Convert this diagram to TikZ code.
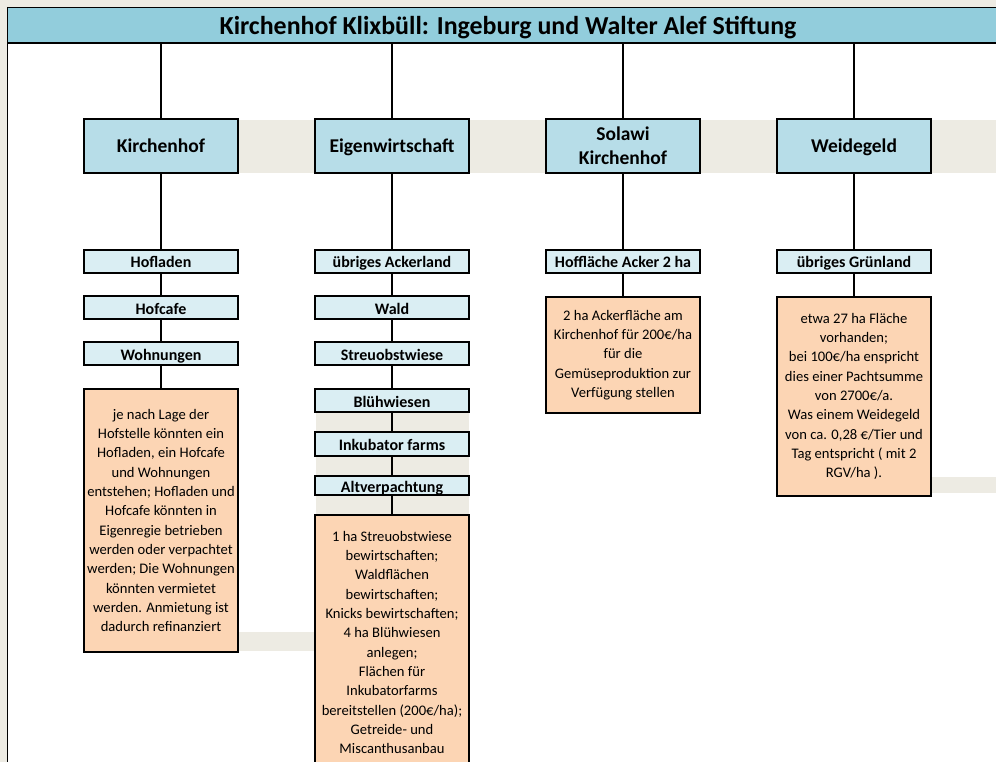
\documentclass[tikz,border=0pt]{standalone}
\usepackage{fontspec}
\setmainfont{Carlito}
\usepackage{tikz}
\usetikzlibrary{positioning,calc}
\definecolor{titleblue}{HTML}{92CDDC}
\definecolor{headblue}{HTML}{B7DDE8}
\definecolor{subblue}{HTML}{DAEEF3}
\definecolor{noteorange}{HTML}{FCD5B4}
\definecolor{bandgray}{HTML}{EDEBE3}
\newcommand{\ttlfont}{\bfseries\fontsize{25.9}{29}\selectfont}
\newcommand{\hdfont}{\bfseries\fontsize{19.5}{23}\selectfont}
\newcommand{\sbfont}{\bfseries\fontsize{16}{18}\selectfont}
\newcommand{\ntfont}{\fontsize{14.6}{19.35}\selectfont}

\begin{document}
\begin{tikzpicture}
  [x=1pt,y=-1pt,
   titleN/.style={draw,line width=1pt,fill=titleblue,minimum width=1001pt,minimum height=35pt,inner sep=0pt,text height=20pt,text depth=1pt,font=\ttlfont},
   headN/.style={draw,line width=2pt,fill=headblue,minimum width=154pt,minimum height=54pt,inner sep=0pt,text height=15pt,text depth=1pt,font=\hdfont},
   subN/.style={draw,line width=2pt,fill=subblue,minimum width=154pt,minimum height=23pt,inner sep=0pt,text height=14pt,text depth=1pt,font=\sbfont},
   noteN/.style={draw,line width=2pt,fill=noteorange,minimum width=154pt,inner sep=0pt,align=center,anchor=north,font=\ntfont},
   band/.style={fill=bandgray},
   conn/.style={line width=1.5pt}]

  \useasboundingbox (0,0) rectangle (996,762);
  \clip (0,0) rectangle (996,762);

  % sheet
  \fill[bandgray] (0,0) rectangle (996,762);
  \fill[white] (7,7) rectangle (996,762);
  \draw[line width=1pt] (7,7) -- (7,762);

  \fill[band] (238,120) rectangle (996,173);
  \fill[band] (316,412) rectangle (469,514);
  \fill[band] (238,632) rectangle (315,651);
  \fill[band] (931,477) rectangle (996,493);

  \node[titleN,anchor=north west] (title) at (7,7) {Kirchenhof Klixbüll: Ingeburg und Walter Alef Stiftung};
  \draw[line width=2pt] (title.south west) -- (title.south east);

  \node[headN] (kh)  at (161,146) {Kirchenhof};
  \node[headN] (ew)  at (392,146) {Eigenwirtschaft};
  \node[headN,align=center,text height=,text depth=] (sol) at (623,146) {Solawi\\[1pt]Kirchenhof};
  \node[headN] (wg)  at (854,146) {Weidegeld};

  \node[subN] (hofladen)  at (161,261.5) {Hofladen};
  \node[subN] (hofcafe)   at (161,307.5) {Hofcafe};
  \node[subN] (wohnungen) at (161,353.5) {Wohnungen};

  \node[subN] (acker) at (392,261.5) {übriges Ackerland};
  \node[subN] (wald)  at (392,307.5) {Wald};
  \node[subN] (streu) at (392,353.5) {Streuobstwiese};
  \node[subN] (blueh) at (392,400.5) {Blühwiesen};
  \node[subN,minimum height=24pt] (inku) at (392,443.5) {Inkubator farms};
  \node[subN,minimum height=19pt] (altv) at (392,485.5) {Altverpachtung};

  \node[subN] (hofflaeche) at (623,261.5) {Hoffläche Acker 2 ha};
  \node[subN] (gruen)      at (854,261.5) {übriges Grünland};

  \node[noteN,minimum height=263pt] (khtext) at (161,388)
    {je nach Lage der\\Hofstelle könnten ein\\Hofladen, ein Hofcafe\\und Wohnungen\\entstehen; Hofladen und\\Hofcafe könnten in\\Eigenregie betrieben\\werden oder verpachtet\\werden; Die Wohnungen\\könnten vermietet\\werden. Anmietung ist\\dadurch refinanziert};
  \node[noteN,minimum height=255pt] (ewtext) at (392,514)
    {1 ha Streuobstwiese\\bewirtschaften;\\Waldflächen\\bewirtschaften;\\Knicks bewirtschaften;\\4 ha Blühwiesen\\anlegen;\\Flächen für\\Inkubatorfarms\\bereitstellen (200€/ha);\\Getreide- und\\Miscanthusanbau};
  \node[noteN,minimum height=116pt] (soltext) at (623,296)
    {2 ha Ackerfläche am\\Kirchenhof für 200€/ha\\für die\\Gemüseproduktion zur\\Verfügung stellen};
  \node[noteN,minimum height=199pt] (wgtext) at (854,296)
    {etwa 27 ha Fläche\\vorhanden;\\bei 100€/ha enspricht\\dies einer Pachtsumme\\von 2700€/a.\\Was einem Weidegeld\\von ca. 0,28 €/Tier und\\Tag entspricht ( mit 2\\RGV/ha ).};

  \draw[conn] (kh.north)  -- (kh.north  |- title.south);
  \draw[conn] (ew.north)  -- (ew.north  |- title.south);
  \draw[conn] (sol.north) -- (sol.north |- title.south);
  \draw[conn] (wg.north)  -- (wg.north  |- title.south);

  \draw[conn] (kh) -- (hofladen); \draw[conn] (hofladen) -- (hofcafe);
  \draw[conn] (hofcafe) -- (wohnungen); \draw[conn] (wohnungen) -- (khtext);

  \draw[conn] (ew) -- (acker); \draw[conn] (acker) -- (wald);
  \draw[conn] (wald) -- (streu); \draw[conn] (streu) -- (blueh);
  \draw[conn] (blueh) -- (inku); \draw[conn] (inku) -- (altv);
  \draw[conn] (altv) -- (ewtext);

  \draw[conn] (sol) -- (hofflaeche); \draw[conn] (hofflaeche) -- (soltext);
  \draw[conn] (wg) -- (gruen); \draw[conn] (gruen) -- (wgtext);
\end{tikzpicture}
\end{document}
